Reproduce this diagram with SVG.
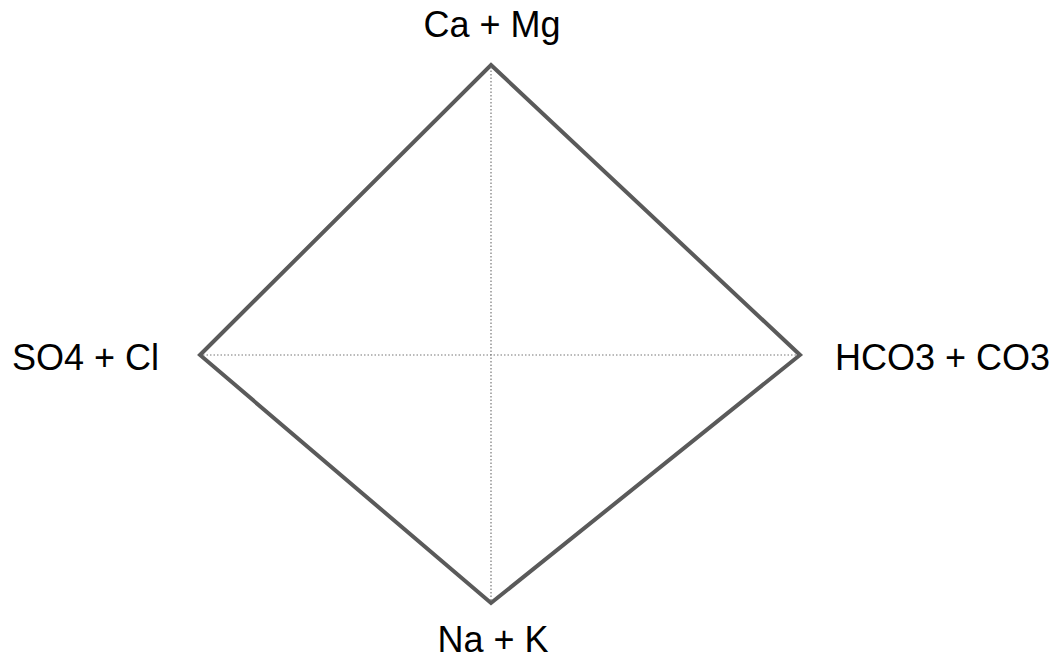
<svg xmlns="http://www.w3.org/2000/svg" width="1062" height="662" viewBox="0 0 1062 662">
<style>
.lbl{font-family:"Liberation Sans",Arial,sans-serif;font-size:36px;fill:#000}
.outer{fill:none;stroke:#5a5a5a;stroke-width:4;stroke-linejoin:miter}
.inner{fill:none;stroke:#777;stroke-width:1.2;stroke-dasharray:1.5 2}
</style>
<rect width="1062" height="662" fill="#fff"/>
<g id="connectors">
<polygon class="outer" points="491,65 800,355 491,603 200,355"/>
<line class="inner" x1="491" y1="67" x2="491" y2="601"/>
<line class="inner" x1="203" y1="355" x2="797" y2="355"/>
</g>
<g id="top"><text class="lbl" x="492" y="37" text-anchor="middle">Ca + Mg</text></g>
<g id="left"><text class="lbl" x="12" y="370">SO4 + Cl</text></g>
<g id="right"><text class="lbl" x="835" y="370">HCO3 + CO3</text></g>
<g id="bottom"><text class="lbl" x="493" y="652" text-anchor="middle">Na + K</text></g>
</svg>
